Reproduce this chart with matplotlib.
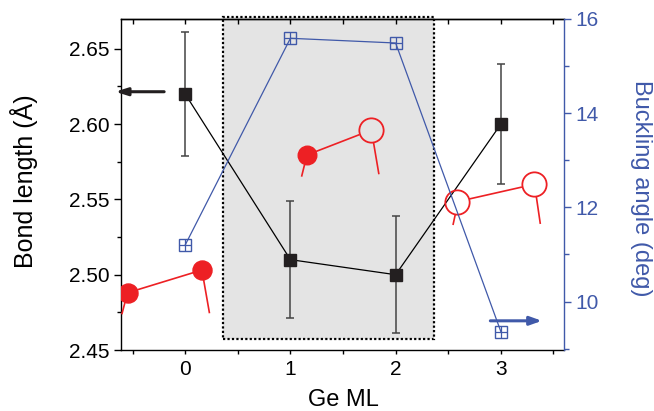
import numpy as np
import matplotlib
matplotlib.use('Agg')
import matplotlib.pyplot as plt
from matplotlib.patches import Rectangle

plt.rcParams['font.family'] = ['Liberation Sans', 'DejaVu Sans']

# data
ge_ml = [0, 1, 2, 3]
bond_length = [2.620, 2.510, 2.500, 2.600]
bond_err = [0.041, 0.039, 0.039, 0.040]
buckling = [11.2, 15.59, 15.49, 9.36]

blue = '#4059a9'
red = '#ed2024'
dark = '#231f20'

fig = plt.figure(figsize=(6.54, 4.11), dpi=100)
ax = fig.add_axes([0.185, 0.1484, 0.6774, 0.8054])
ax2 = ax.twinx()

# shaded region (1-2 ML)
rect = Rectangle((0.355, 2.457), 2.36 - 0.355, 2.6713 - 2.457, facecolor='#e4e4e4',
                 edgecolor='black', lw=1.6, ls=(0, (1, 1)), zorder=0, clip_on=False)
ax.add_patch(rect)

# bond length (left)
ax.errorbar(ge_ml, bond_length, yerr=bond_err, color='black', lw=0.9,
            ecolor='#444444', elinewidth=1.1, capsize=3, capthick=1.1,
            marker='s', ms=8.5, mfc=dark, mec=dark, zorder=3)

# buckling angle (right)
ax2.plot(ge_ml, buckling, color=blue, lw=0.9, marker='s', ms=9, mfc='none',
         mec=blue, mew=1.0, zorder=3)
ax2.plot(ge_ml, buckling, ls='none', marker='+', ms=8, mec=blue, mew=0.9, zorder=3)

# dimer sketches
def bond(x, y):
    ax.plot(x, y, color=red, lw=1.2, zorder=4, solid_capstyle='butt')

# pair 1 (filled, filled)
bond([-0.548, 0.159], [2.4880, 2.5031])
bond([-0.548, -0.602], [2.4880, 2.4737])
bond([0.159, 0.231], [2.5031, 2.4744])
ax.plot([-0.548, 0.159], [2.4880, 2.5031], ls='none', marker='o', ms=13.7,
        mfc=red, mec=red, zorder=5)
# pair 2 (filled, open)
bond([1.157, 1.656], [2.5795, 2.5930])
bond([1.157, 1.106], [2.5795, 2.5651])
bond([1.790, 1.841], [2.5877, 2.5667])
ax.plot([1.157], [2.5795], ls='none', marker='o', ms=13.4, mfc=red, mec=red, zorder=5)
ax.plot([1.768], [2.5961], ls='none', marker='o', ms=17.5, mfc='none', mec=red,
        mew=1.3, zorder=5)
# pair 3 (open, open)
bond([2.700, 3.200], [2.5503, 2.5582])
bond([2.567, 2.545], [2.5401, 2.5330])
bond([3.337, 3.375], [2.5518, 2.5337])
ax.plot([2.583, 3.318], [2.5485, 2.5600], ls='none', marker='o', ms=17.5,
        mfc='none', mec=red, mew=1.3, zorder=5)

# arrows
ax.annotate('', xy=(-0.665, 2.6215), xytext=(-0.2, 2.6215), annotation_clip=False,
            arrowprops=dict(arrowstyle='-|>,head_length=0.7,head_width=0.22',
                            lw=2.2, color=dark, shrinkA=0, shrinkB=0))
ax2.annotate('', xy=(3.39, 9.59), xytext=(2.9, 9.59), annotation_clip=False,
             arrowprops=dict(arrowstyle='-|>,head_length=0.7,head_width=0.25',
                             lw=2.2, color=blue, shrinkA=0, shrinkB=0))

# axes
ax.set_xlim(-0.61, 3.6)
ax.set_ylim(2.45, 2.6698)
ax2.set_ylim(8.97, 16.0)

ax.set_xticks([0, 1, 2, 3])
ax.set_xticks([-0.5, 0.5, 1.5, 2.5, 3.5], minor=True)
ax.set_yticks([2.45, 2.50, 2.55, 2.60, 2.65])
ax.set_yticklabels(['2.45', '2.50', '2.55', '2.60', '2.65'])
ax.set_yticks([2.475, 2.525, 2.575, 2.625], minor=True)
ax2.set_yticks([10, 12, 14, 16])
ax2.set_yticks([9, 11, 13, 15], minor=True)

ax.tick_params(axis='y', which='major', direction='out', length=5, width=1, labelsize=15, pad=3)
ax.tick_params(axis='y', which='minor', direction='out', length=3, width=1)
ax.tick_params(axis='x', which='both', direction='out', length=3.2, width=1, labelsize=15, pad=4)
ax2.tick_params(axis='y', which='major', direction='out', length=5, width=1, labelsize=15,
                colors=blue, pad=3)
ax2.tick_params(axis='y', which='minor', direction='out', length=3.4, width=1, colors=blue)

top = ax.secondary_xaxis('top')
top.set_xticks([-0.5, 0, 0.5, 1, 1.5, 2, 2.5, 3, 3.5])
top.tick_params(direction='in', length=3.5, width=1, labeltop=False)

for s in ['left', 'bottom', 'top']:
    ax.spines[s].set_linewidth(1.0)
top.spines['top'].set_linewidth(1.0)
ax.spines['right'].set_visible(False)
ax2.spines['left'].set_visible(False)
ax2.spines['top'].set_visible(False)
ax2.spines['bottom'].set_visible(False)
ax2.spines['right'].set_color(blue)
ax2.spines['right'].set_linewidth(1.0)

ax.set_xlabel('Ge ML', fontsize=17, va='center')
ax.xaxis.set_label_coords(0.501, -0.151)
ax.set_ylabel('Bond length (Å)', fontsize=18, va='center')
ax.yaxis.set_label_coords(-0.219, 0.51)
ax2.set_ylabel('Buckling angle (deg)', fontsize=17, color=blue, rotation=270, va='center')
ax2.yaxis.set_label_coords(1.174, 0.49)

fig.savefig('out.png', dpi=100)
